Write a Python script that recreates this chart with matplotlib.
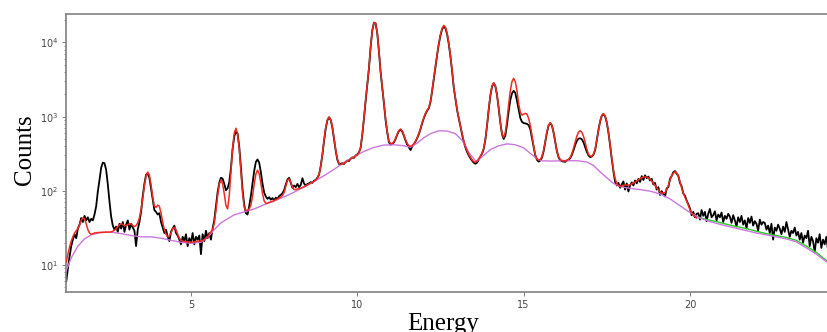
import numpy as np
import matplotlib
matplotlib.use("Agg")
import matplotlib.pyplot as plt

# ---------------- data ----------------
energy_start = 1.25   # keV, first channel
energy_step = 0.05    # keV per channel

# measured spectrum (black), 1.25 .. 24.15 keV
counts_measured = [
    6, 9, 13, 18, 22, 26, 23, 31, 35, 43, 38, 46, 40, 44, 38, 42, 40, 48, 62, 98,
    140, 205, 240, 236, 192, 122, 72, 45, 34, 30, 33, 28, 36, 31, 38, 28, 35, 40, 30, 36,
    32, 29, 18, 30, 38, 52, 85, 125, 165, 172, 150, 108, 78, 55, 52, 48, 50, 38, 32, 27,
    30, 24, 21, 28, 31, 34, 27, 25, 22, 19, 24, 21, 26, 18, 23, 20, 27, 19, 24, 22,
    25, 14, 26, 21, 29, 23, 27, 22, 31, 40, 62, 95, 128, 150, 146, 125, 102, 108, 130, 200,
    360, 540, 625, 590, 400, 210, 105, 65, 50, 48, 62, 85, 125, 185, 245, 265, 240, 180, 125, 95,
    84, 78, 82, 76, 80, 74, 81, 78, 85, 88, 93, 102, 122, 142, 150, 128, 110, 118, 112, 124,
    112, 120, 148, 125, 118, 124, 126, 131, 128, 137, 140, 150, 165, 215, 305, 470, 690, 890, 975, 905,
    715, 505, 350, 262, 230, 232, 236, 230, 246, 256, 252, 272, 282, 278, 300, 310, 330, 380, 570, 940,
    1630, 2700, 4450, 8600, 14400, 18500, 18100, 13400, 7600, 4000, 2480, 1510, 905, 615, 455, 420, 428, 450, 498, 570,
    640, 668, 630, 555, 475, 420, 385, 355, 395, 425, 462, 515, 580, 680, 815, 955, 1090, 1200, 1300, 1580,
    2220, 3250, 4830, 6800, 9550, 12450, 15100, 16400, 15500, 12900, 9550, 6450, 4100, 2450, 1720, 1230, 945, 745, 575, 455,
    385, 335, 300, 275, 255, 240, 232, 240, 262, 288, 318, 368, 490, 755, 1240, 1920, 2560, 2830, 2580, 1960,
    1300, 830, 580, 500, 555, 780, 1180, 1680, 2060, 2230, 2090, 1640, 1250, 960, 850, 820, 810, 800, 770, 680,
    520, 395, 300, 262, 248, 256, 280, 340, 455, 610, 760, 818, 762, 612, 455, 342, 284, 258, 250, 248,
    246, 255, 262, 276, 305, 352, 415, 470, 505, 512, 495, 450, 390, 335, 300, 285, 290, 308, 355, 480,
    665, 865, 1030, 1085, 1010, 830, 610, 410, 268, 182, 132, 118, 128, 110, 122, 134, 104, 126, 98, 118,
    130, 118, 138, 126, 145, 132, 158, 140, 162, 148, 156, 138, 145, 122, 128, 104, 112, 88, 99, 90,
    84, 108, 112, 145, 158, 178, 185, 170, 160, 128, 115, 92, 86, 74, 66, 58, 47, 52, 44, 49,
    50, 41, 55, 46, 52, 39, 49, 57, 44, 47, 53, 40, 48, 44, 51, 38, 46, 42, 49, 45,
    37, 47, 40, 33, 44, 38, 46, 35, 40, 31, 43, 37, 45, 34, 39, 36, 29, 41, 35, 38,
    37, 30, 34, 27, 36, 22, 32, 29, 35, 31, 26, 33, 28, 38, 30, 24, 29, 27, 32, 25,
    28, 22, 27, 20, 25, 23, 29, 18, 24, 21, 15, 23, 20, 26, 17, 22, 19, 24, 16,
]

# fitted spectrum (red), 1.25 .. 20.20 keV on the same channels
counts_fit = [
    11, 14, 17.5, 21, 24, 27, 29, 31, 35, 40, 43, 42, 36, 30, 27, 26, 26.5, 27, 27.2, 27.4,
    27.5, 27.5, 27.6, 27.7, 27.8, 27.8, 27.8, 28, 28.5, 29.5, 31, 33, 35, 36, 35, 34, 34, 35, 36, 36,
    34, 33, 34, 37, 43, 56, 79, 118, 160, 179, 162, 120, 82, 62, 60, 64, 62, 50, 38, 30,
    26, 24, 24.5, 27, 31, 32, 30, 26, 23, 21.5, 21, 20.8, 20.6, 20.5, 20.5, 20.4, 20.4, 20.5, 20.8, 21,
    21, 21, 21.5, 22, 23, 24, 26, 28, 30, 36.5, 54, 85.5, 122, 140, 125, 91.5, 64, 57, 85.7, 182,
    371, 594, 698, 596, 375, 188, 93, 61, 54.5, 54.5, 57, 64, 84, 123, 168, 190, 171, 128, 92, 73,
    68, 68, 70, 71, 72, 74, 76, 78, 80, 83, 87, 95, 115, 138, 145, 130, 112, 104, 104, 106,
    107, 108, 111, 113, 116, 120, 123, 127, 131, 134, 139, 147, 167, 213, 311, 482, 705, 907, 993, 919,
    729, 518, 358, 270, 235, 227, 229, 236, 243, 251, 260, 268, 276, 285, 294, 305, 327, 384, 584, 960,
    1655, 2740, 4507, 8724, 14572, 18610, 18167, 13493, 7658, 4043, 2528, 1543, 926, 626, 467, 435, 436, 457, 506, 580,
    651, 680, 645, 568, 489, 435, 408, 398, 410, 430, 470, 520, 590, 690, 830, 970, 1110, 1220, 1320, 1600,
    2250, 3300, 4900, 6900, 9700, 12700, 15500, 17000, 16000, 13300, 9800, 6600, 4200, 2500, 1750, 1250, 960, 760, 590, 470,
    400, 350, 310, 285, 262, 248, 244, 252, 270, 292, 320, 371, 494, 764, 1262, 1949, 2591, 2862, 2608, 1982,
    1313, 835, 591, 526, 615, 904, 1464, 2247, 2980, 3281, 2969, 2233, 1500, 1150, 1050, 1080, 1110, 1080, 950, 760,
    560, 400, 310, 270, 259, 265, 289, 348, 461, 619, 767, 828, 767, 619, 461, 348, 289, 265, 257, 255,
    256, 258, 266, 282, 316, 375, 456, 546, 618, 646, 617, 543, 450, 366, 310, 295, 292, 312, 361, 488,
    671, 876, 1041, 1100, 1025, 844, 622, 421, 276, 190, 146, 126, 118, 115, 116, 118, 120, 120, 119, 121,
    124, 127, 131, 136, 141, 145, 150, 153, 154, 153, 150, 144, 136, 127, 118, 110, 103, 97, 94, 93,
    95, 103, 118, 140, 160, 172, 181, 176, 158, 133, 110, 94, 82, 73, 64, 56, 51, 47, 45, 43,
]

# background (violet)
bg_energy = [1.23, 1.4, 1.6, 1.8, 2.0, 2.3, 2.6, 2.9, 3.2, 3.5, 3.8, 4.1, 4.4, 4.7, 5.0,
             5.3, 5.5, 5.7, 5.9, 6.1, 6.3, 6.6, 6.9, 7.2, 7.5, 7.8, 8.1, 8.4, 8.7, 9.0,
             9.3, 9.6, 9.9, 10.2, 10.5, 10.8, 11.1, 11.4, 11.6, 11.8, 12.0, 12.2, 12.45, 12.7,
             12.95, 13.15, 13.35, 13.55, 13.6, 13.8, 14.0, 14.25, 14.5, 14.75, 15.0, 15.2, 15.4,
             15.55, 15.8, 16.2, 16.6, 16.9, 17.1, 17.3, 17.5, 17.7, 17.9, 18.2, 18.5, 18.8, 19.1,
             19.4, 19.7, 20.0, 20.3, 20.6, 21.0, 21.5, 22.0, 22.5, 22.9, 23.2, 23.5, 23.8, 24.2]
bg_counts = [8.0, 12.5, 18, 22.5, 25.5, 27.5, 27.8, 26.5, 25, 24, 24, 23, 21.5, 20.3, 19.6,
             20.3, 23.5, 30, 37, 42, 47.5, 52, 57, 65, 73, 83, 96, 113, 134, 160,
             195, 240, 290, 340, 385, 414, 418, 405, 388, 440, 520, 590, 645, 640,
             590, 480, 330, 255, 252, 300, 360, 405, 430, 418, 380, 320, 270,
             254, 252, 254, 255, 245, 220, 180, 150, 126, 114, 108, 104, 99, 91,
             78, 63, 51, 43, 38.5, 34.5, 30.5, 27, 24.5, 22.5, 20.5, 17, 14, 10.3]

# continuation of the fit (green)
tail_energy = [20.2, 20.5, 20.8, 21.1, 21.4, 21.7, 22.0, 22.3, 22.6, 22.9, 23.2, 23.5, 23.8, 24.15]
tail_counts = [45, 41, 38.5, 35.5, 33, 31, 28.5, 26.5, 25, 23.5, 21.5, 18, 14.8, 11]

xtick_values = [5, 10, 15, 20]

# ---------------- plot ----------------
energy_measured = energy_start + energy_step * np.arange(len(counts_measured))
energy_fit = energy_start + energy_step * np.arange(len(counts_fit))

fig = plt.figure(figsize=(8.28, 3.32), dpi=100)
ax = fig.add_axes([66 / 828, 40 / 332, 762 / 828, 278 / 332])

ax.plot(energy_measured, counts_measured, color="black", lw=1.3, zorder=2)
ax.plot(tail_energy, tail_counts, color="#22cc22", lw=1.0, zorder=3)
ax.plot(bg_energy, bg_counts, color="#cc77dd", lw=1.0, zorder=4)
ax.plot(energy_fit, counts_fit, color="#ee2a22", lw=1.1, zorder=5)

ax.set_yscale("log")
ax.set_xlim(1.243, 24.15)
ax.set_ylim(4.33, 24200)
ax.set_xticks(xtick_values)
ax.set_xticklabels([str(v) for v in xtick_values])

spine_color = "#808080"
for side in ["top", "left", "bottom"]:
    ax.spines[side].set_color(spine_color)
    ax.spines[side].set_linewidth(1.2)
ax.spines["right"].set_visible(False)

ax.tick_params(axis="both", which="major", labelsize=7, labelcolor="#444444",
               color=spine_color, length=3, width=0.7, pad=2.5)
ax.tick_params(axis="y", which="minor", color=spine_color, length=1.8, width=0.6)
ax.tick_params(axis="x", which="minor", bottom=False)

ax.set_xlabel("Energy", fontsize=18, family="Liberation Serif")
ax.set_ylabel("Counts", fontsize=18, family="Liberation Serif")
ax.xaxis.set_label_coords(0.4948, -0.074)
ax.yaxis.set_label_coords(-0.04, 0.511)

fig.savefig("out.png", dpi=100)
